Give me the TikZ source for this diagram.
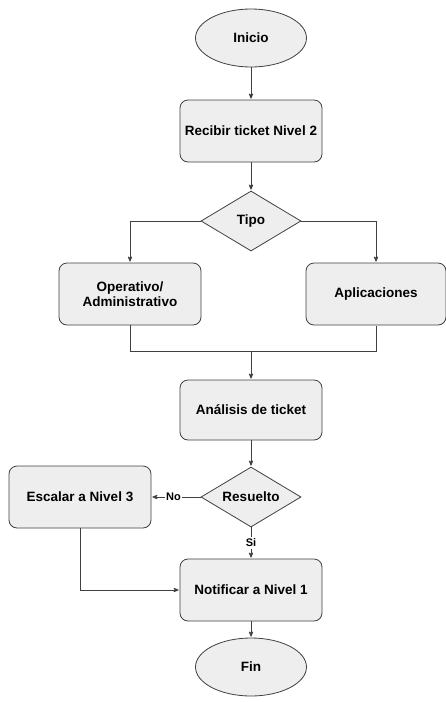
\documentclass[tikz,border=0pt]{standalone}
\usepackage{fontspec}
\setmainfont{Liberation Sans}
\usetikzlibrary{
        arrows,
        positioning,
        shapes.geometric
    }
\tikzset{>=stealth',shorten >=1pt,node distance=93pt}
\tikzset{
    paso/.style={draw=black!75,fill=gray!13,rounded corners=8pt,line width=0.8pt,
        minimum width=142pt,minimum height=62pt,align=center,
        font=\fontsize{13.5}{15}\selectfont\bfseries},
    extremo/.style={ellipse,draw=black!75,fill=gray!13,line width=0.8pt,
        minimum width=111pt,minimum height=58pt,
        font=\fontsize{13.5}{15}\selectfont\bfseries},
    decision/.style={diamond,draw=black!75,fill=gray!13,line width=0.8pt,
        minimum width=100pt,minimum height=60pt,inner sep=0pt,aspect=1.67,
        font=\fontsize{13.5}{15}\selectfont\bfseries},
    flecha/.style={->,draw=black!75,line width=0.8pt},
    linea/.style={draw=black!75,line width=0.8pt},
    etiqueta/.style={fill=white,inner sep=1.5pt,
        font=\fontsize{11}{12}\selectfont\bfseries}
}

\begin{document}
\begin{tikzpicture}
    \useasboundingbox (0pt,0pt) rectangle (445pt,-702pt);
    \node[extremo] (inicio) at (251pt,-38pt) {Inicio};
    \node[paso] (recibir) [below of=inicio] {Recibir ticket Nivel 2};
    \node[decision] (tipo) [below of=recibir, node distance=90pt] {Tipo};
    \node[paso] (operativo) at (130pt,-294pt) {Operativo/\\Administrativo};
    \node[paso, minimum width=140pt] (aplicaciones) at (376pt,-294pt) {Aplicaciones};
    \node[paso, minimum height=60pt] (analisis) [below of=tipo, node distance=189pt] {Análisis de ticket};
    \node[decision] (resuelto) [below of=analisis, node distance=87pt] {Resuelto};
    \node[paso] (escalar) [left of=resuelto, node distance=171pt] {Escalar a Nivel 3};
    \node[paso] (notificar) [below of=resuelto] {Notificar a Nivel 1};
    \node[extremo] (fin) [below of=notificar, node distance=77pt] {Fin};
    \coordinate[above=28pt of analisis.north] (junta);

    \path[flecha] (inicio) edge (recibir)
                  (recibir) edge (tipo);
    \draw[flecha] (tipo.west) -| (operativo.north);
    \draw[flecha] (tipo.east) -| (aplicaciones.north);
    \draw[linea] (operativo.south) |- (junta) -| (aplicaciones.south);
    \draw[flecha] (junta) -- (analisis.north);
    \draw[flecha] (analisis) -- (resuelto);
    \draw[flecha] (resuelto.west) -- node[etiqueta, pos=0.55] {No} (escalar.east);
    \draw[flecha] (resuelto.south) -- node[etiqueta] {Si} (notificar.north);
    \draw[flecha] (escalar.south) |- (notificar.west);
    \draw[flecha] (notificar) -- (fin);
\end{tikzpicture}
\end{document}
